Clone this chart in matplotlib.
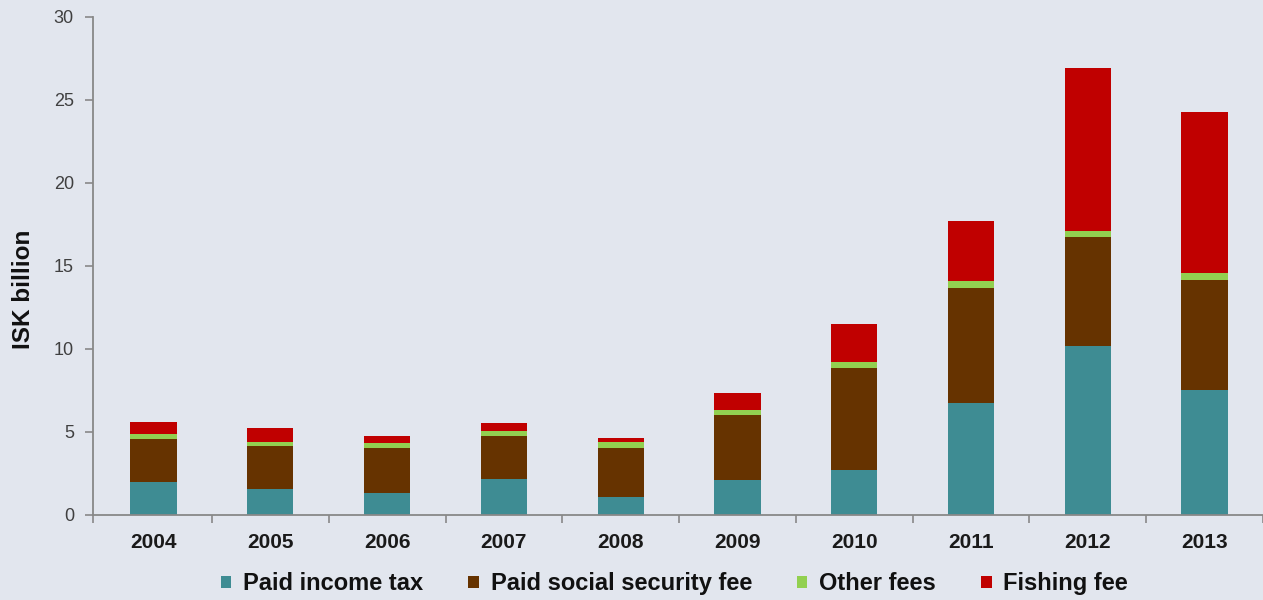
import matplotlib
matplotlib.use("Agg")
import matplotlib.pyplot as plt
import numpy as np
from matplotlib.patches import Patch

years = ["2004", "2005", "2006", "2007", "2008", "2009", "2010", "2011", "2012", "2013"]
income_tax = [2.0, 1.55, 1.3, 2.15, 1.1, 2.1, 2.7, 6.77, 10.15, 7.5]
social_fee = [2.6, 2.62, 2.75, 2.63, 2.95, 3.9, 6.13, 6.9, 6.6, 6.65]
other_fees = [0.28, 0.21, 0.27, 0.28, 0.37, 0.35, 0.36, 0.4, 0.35, 0.4]
fishing_fee = [0.7, 0.88, 0.46, 0.46, 0.24, 1.0, 2.3, 3.65, 9.8, 9.7]
series_names = ["Paid income tax", "Paid social security fee", "Other fees", "Fishing fee"]
colors = ["#3E8C93", "#663300", "#92D050", "#C00000"]

bg = "#E2E6EE"
plt.rcParams['font.family'] = ['Liberation Sans', 'DejaVu Sans']

fig = plt.figure(figsize=(12.63, 6.0), dpi=100, facecolor=bg)
ax = fig.add_axes([0.0739, 0.1417, 0.9261, 0.830])
ax.set_facecolor(bg)

x = np.arange(len(years))
w = 0.396
bottom = np.zeros(len(years))
for vals, c in zip([income_tax, social_fee, other_fees, fishing_fee], colors):
    ax.bar(x, vals, w, bottom=bottom, color=c, edgecolor='none')
    bottom += np.array(vals)

xl = -0.516
ax.set_xlim(xl, 9.43)
ax.set_ylim(0, 30)
ax.set_yticks(range(0, 31, 5))
ax.set_xticks(x)
ax.set_xticklabels(years, fontsize=15, fontweight='bold', color='#1a1a1a')
ax.tick_params(axis='x', length=0, pad=13)
ax.set_xticks([xl] + list(np.arange(0.5, len(years) - 0.4, 1.0)), minor=True)
ax.tick_params(axis='x', which='minor', length=6, color='#888888', width=1.2)
ax.tick_params(axis='y', length=6, color='#888888', width=1.2, labelsize=13, labelcolor='#404040', pad=8)

for s in ['top', 'right']:
    ax.spines[s].set_visible(False)
for s in ['left', 'bottom']:
    ax.spines[s].set_color('#888888')
    ax.spines[s].set_linewidth(1.3)

fig.text(23.5 / 1263, 1 - 289 / 600, "ISK billion", rotation=90, ha='center', va='center',
         fontsize=17.5, fontweight='bold', color='#111111')

handles = [Patch(facecolor=c, edgecolor='none') for c in colors]
fig.legend(handles, series_names, loc='center', bbox_to_anchor=(0.534, 0.027), ncol=4,
           frameon=False, prop={'size': 17, 'weight': 'bold'}, handlelength=0.45, handleheight=0.45,
           handletextpad=0.5, columnspacing=1.9, labelcolor='#111111', borderpad=0, borderaxespad=0)

fig.savefig("out.png", dpi=100, facecolor=bg)
